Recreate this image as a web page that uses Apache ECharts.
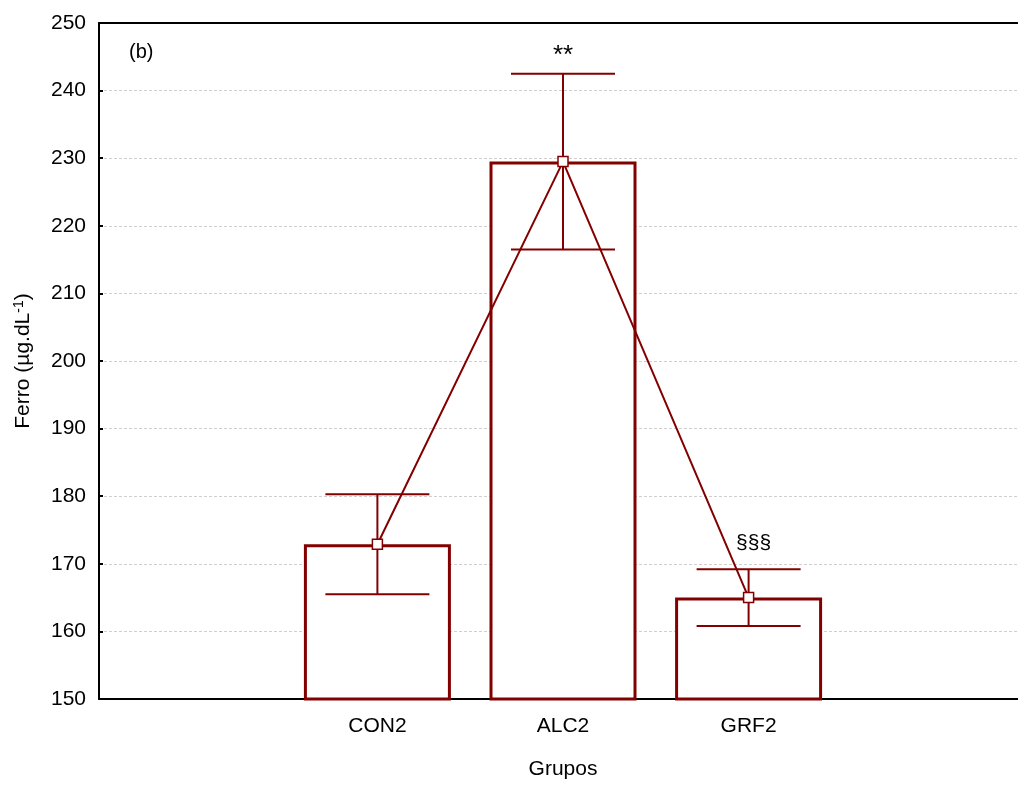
<!DOCTYPE html>
<html>
<head>
<meta charset="utf-8">
<script src="https://cdn.jsdelivr.net/npm/echarts@6/dist/echarts.min.js"></script>
<style>html,body{margin:0;padding:0;background:#fff;overflow:hidden;width:1018px;height:785px;}#main{width:1040px;height:785px;}</style>
</head>
<body>
<div id="main"></div>
<script>
// ---- data ----
var categories = ['', 'CON2', 'ALC2', 'GRF2', ''];
var groups = ['CON2', 'ALC2', 'GRF2'];
var means = [172.9, 229.5, 165.0];
var errors = [7.4, 13.0, 4.2];
var yTicks = [150, 160, 170, 180, 190, 200, 210, 220, 230, 240, 250];
var annotGroups = ['ALC2', 'GRF2'];
var annotText = ['**', '§§§'];
var annotValue = [245.1, 173.1];

var RED = '#830000';
var FONT = 'Liberation Sans, Arial, sans-serif';

var chart = echarts.init(document.getElementById('main'), null, {renderer: 'canvas'});

var barData = groups.map(function (g, i) { return [g, means[i]]; });
var errData = groups.map(function (g, i) { return [g, means[i] - errors[i], means[i] + errors[i]]; });
var annotData = annotGroups.map(function (g, i) { return {value: [g, annotValue[i]], label: {formatter: annotText[i]}}; });
annotData[0].label.fontSize = 26;
annotData[1].label.fontSize = 21;
annotData[1].label.offset = [5, 0];

var option = {
  backgroundColor: '#fff',
  animation: false,
  title: {
    text: '(b)', left: 124, top: 37,
    textStyle: {fontFamily: FONT, fontSize: 20, fontWeight: 'normal', color: '#000'}
  },
  grid: {left: 99, top: 23, width: 928, height: 680, containLabel: false},
  xAxis: [{
    type: 'category', data: categories, position: 'bottom',
    boundaryGap: true,
    name: 'Grupos', nameLocation: 'middle', nameGap: 60,
    nameTextStyle: {fontFamily: FONT, fontSize: 21, color: '#000'},
    axisLine: {lineStyle: {color: '#000', width: 2}},
    axisTick: {alignWithLabel: true, inside: true, length: 4, lineStyle: {color: '#000', width: 2}},
    axisLabel: {fontFamily: FONT, fontSize: 21, color: '#000', margin: 17, interval: 0},
    splitLine: {show: false}
  }, {
    type: 'category', data: categories, position: 'top',
    boundaryGap: true,
    axisLine: {lineStyle: {color: '#000', width: 2}},
    axisTick: {alignWithLabel: true, inside: true, length: 4, lineStyle: {color: '#000', width: 2}},
    axisLabel: {show: false},
    splitLine: {show: false}
  }],
  yAxis: {
    type: 'value', min: yTicks[0], max: yTicks[yTicks.length - 1], interval: 10,
    name: 'Ferro (µg.dL{sup|-1})', nameLocation: 'middle', nameGap: 64, nameRotate: 90,
    nameTextStyle: {fontFamily: FONT, fontSize: 21, color: '#000',
      rich: {sup: {fontFamily: FONT, fontSize: 14, color: '#000', verticalAlign: 'top', padding: [0, 0, 9, 0]}}},
    axisLine: {show: true, lineStyle: {color: '#000', width: 2}},
    axisTick: {show: true, inside: true, length: 4, lineStyle: {color: '#000', width: 2}},
    axisLabel: {fontFamily: FONT, fontSize: 21, color: '#000', margin: 13},
    splitLine: {show: true, lineStyle: {color: '#cfcfcf', type: [3, 2], width: 1}}
  },
  series: [{
    type: 'bar', data: barData, barWidth: 147, z: 2,
    itemStyle: {color: '#fff', borderColor: RED, borderWidth: 3}
  }, {
    type: 'custom', data: errData, z: 3,
    renderItem: function (params, api) {
      var lo = api.coord([api.value(0), api.value(1)]);
      var hi = api.coord([api.value(0), api.value(2)]);
      var hw = 52;
      var st = {stroke: RED, lineWidth: 2};
      return {type: 'group', children: [
        {type: 'line', shape: {x1: hi[0], y1: hi[1], x2: lo[0], y2: lo[1]}, style: st},
        {type: 'line', shape: {x1: hi[0] - hw, y1: hi[1], x2: hi[0] + hw, y2: hi[1]}, style: st},
        {type: 'line', shape: {x1: lo[0] - hw, y1: lo[1], x2: lo[0] + hw, y2: lo[1]}, style: st}
      ]};
    }
  }, {
    type: 'line', data: barData, z: 4,
    lineStyle: {color: RED, width: 2},
    symbol: 'rect', symbolSize: 10, showAllSymbol: true,
    itemStyle: {color: '#fff', borderColor: RED, borderWidth: 1.5}
  }, {
    type: 'scatter', data: annotData, symbolSize: 0, z: 5,
    itemStyle: {opacity: 1},
    label: {show: true, position: 'inside', fontFamily: FONT, fontSize: 21, color: '#000', opacity: 1},
    emphasis: {disabled: true},
    silent: true
  }]
};
chart.setOption(option);
</script>
</body>
</html>
